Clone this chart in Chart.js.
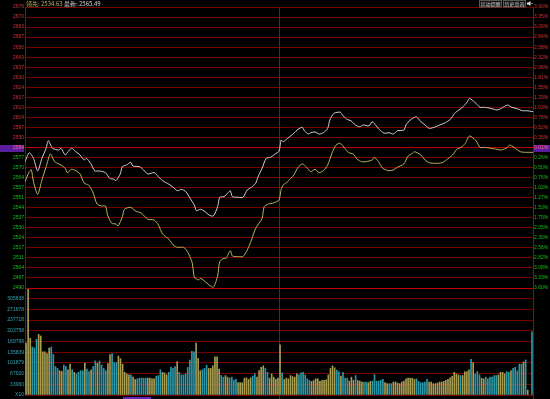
<!DOCTYPE html>
<html><head><meta charset="utf-8">
<script src="https://cdn.jsdelivr.net/npm/chart.js@4"></script>
<style>
html,body{margin:0;padding:0;background:#000;width:550px;height:399px;overflow:hidden}
#wrap{position:relative;width:550px;height:399px}
canvas{position:absolute;left:0;top:0}
</style></head><body>
<div id="wrap"><canvas id="vol" width="550" height="399"></canvas><canvas id="price" width="550" height="399"></canvas></div>
<script>
// ---- tick labels (bottom to top) ----
const priceTickLabels = ['2490','2497','2504','2511','2517','2524','2530','2537','2544','2551','2557','2564','2570','2577','2584','2590','2597','2604','2610','2617','2624','2630','2637','2643','2650','2657','2663','2670','2678'];
const pctTickLabels = ['3.60%','3.33%','3.08%','2.82%','2.56%','2.30%','2.05%','1.79%','1.53%','1.27%','1.02%','0.76%','0.50%','0.26%','0.01%','0.26%','0.52%','0.78%','1.03%','1.29%','1.55%','1.81%','2.06%','2.32%','2.58%','2.84%','3.09%','3.35%','3.60%'];
const volTickLabels = ['X10','33960','67920','101879','135839','169798','203758','237718','271678','305638',''];
const priceMin = 2490, priceMax = 2678, volMax = 339598;

// ---- header / buttons text ----
const headerLead = '领先: 2534.63';
const headerLast = '最新: 2565.49';
const buttonTexts = ['异动提醒','历史查询'];

// ---- white line (index), minute index / value ----
const whiteMin = [0,2,4,6,8,10,11,13,16,17,19,20,22,24,26,28,29,31,33,35,38,40,42,43,45,46,48,50,51,54,56,58,61,63,65,68,70,72,74,76,78,80,81,83,85,87,89,91,92,94,96,97,98,101,103,105,107,109,110,112,114,116,118,120,121,122,124,127,129,131,132,134,135,137,139,141,143,144,146,149,150,152,154,156,158,160,162,163,164,166,168,170,172,174,176,179,180,182,184,185,187,189,191,194,196,198,201,203,205,207,209,210,213,215,217,220,223,225,228,230,232,235,237,240];
const whiteVal = [2574.5,2580.5,2576.8,2568.3,2576.8,2583.5,2588.6,2583.5,2582.3,2583.5,2579.0,2580.5,2583.5,2581.2,2579.0,2575.6,2576.8,2573.4,2568.3,2568.3,2567.2,2563.4,2562.7,2561.8,2566.3,2571.2,2572.3,2574.1,2571.6,2571.2,2569.0,2566.3,2567.2,2564.5,2561.8,2559.4,2557.4,2555.1,2556.0,2554.4,2550.0,2545.5,2541.7,2542.7,2541.1,2538.8,2538.2,2544.4,2550.7,2551.1,2553.8,2555.1,2551.1,2550.7,2550.7,2555.6,2557.4,2560.1,2564.1,2570.1,2576.8,2577.4,2579.5,2581.5,2589.0,2587.9,2590.1,2593.5,2596.2,2597.5,2595.2,2593.0,2593.9,2594.4,2593.0,2593.9,2596.8,2602.4,2606.9,2607.6,2605.7,2602.9,2601.9,2599.1,2597.9,2599.1,2598.4,2599.1,2601.3,2598.4,2595.2,2593.5,2593.9,2593.0,2595.2,2595.7,2599.1,2602.4,2604.2,2604.6,2601.3,2599.1,2596.8,2597.9,2599.1,2600.2,2602.9,2606.9,2609.1,2611.3,2614.6,2616.9,2613.6,2610.9,2610.9,2610.2,2609.1,2610.2,2612.4,2610.9,2610.2,2608.6,2608.6,2608.0];

// ---- yellow line (leading), minute index / value ----
const yellowMin = [0,2,3,4,6,8,10,12,14,16,17,19,20,22,24,26,28,30,32,34,36,38,39,41,43,44,46,47,50,52,55,58,61,63,65,68,70,72,75,77,79,80,82,83,86,87,89,91,92,94,95,97,98,101,103,105,107,109,112,113,115,117,120,121,122,124,127,129,131,133,135,137,139,141,143,145,147,149,151,153,155,157,159,161,164,165,167,169,172,174,176,179,181,183,184,187,189,191,194,197,199,202,204,206,208,210,213,215,217,220,223,225,228,229,231,234,236,240];
const yellowVal = [2561.1,2567.8,2569.0,2561.1,2552.7,2562.3,2571.2,2579.7,2574.5,2573.0,2572.3,2570.1,2567.2,2569.4,2568.5,2566.3,2560.1,2558.9,2554.4,2546.2,2544.9,2544.9,2538.8,2533.3,2532.8,2531.5,2537.7,2542.7,2544.0,2541.7,2540.0,2536.0,2535.5,2532.2,2526.1,2522.6,2518.8,2517.2,2517.2,2513.6,2506.9,2497.2,2495.4,2496.5,2493.2,2492.0,2490.5,2498.0,2507.6,2509.9,2509.9,2515.0,2511.4,2511.0,2511.0,2515.4,2522.1,2530.0,2536.6,2544.4,2546.2,2546.7,2548.9,2556.0,2558.9,2561.1,2565.6,2570.8,2573.0,2570.8,2567.8,2569.4,2567.2,2568.5,2572.3,2580.1,2585.7,2586.8,2583.5,2580.5,2579.7,2576.1,2574.5,2574.5,2575.6,2577.4,2574.5,2570.1,2568.5,2569.0,2570.8,2573.0,2578.3,2580.1,2581.2,2579.0,2575.6,2573.8,2573.4,2573.8,2575.6,2579.0,2582.8,2584.1,2586.8,2591.7,2588.6,2584.1,2584.1,2583.5,2582.8,2582.3,2584.1,2585.7,2584.1,2581.2,2580.8,2580.8];

// ---- volume per minute (242 bars) and direction (1 = up, 0 = down) ----
const volume = [
164640,339000,180075,152292,149205,176988,192423,187278,136857,136857,
131712,149205,152292,128625,90552,84378,77175,75117,94668,90552,
80262,97755,80262,72030,66885,72030,77175,77175,100842,82320,
74088,80262,90552,108045,100842,108045,94668,84378,77175,99813,
128625,131712,102900,102900,123480,115248,97755,72030,66885,63798,
63798,56595,49392,51450,53508,53508,53508,53508,53508,53508,
51450,51450,59682,61740,80262,72030,69972,63798,72030,87465,
84378,90552,105987,72030,63798,63798,66885,87465,111132,138915,
136857,164640,116277,77175,80262,84378,94668,84378,84378,92610,
121422,121422,82320,61740,56595,61740,56595,53508,56595,46305,
49392,39102,39102,39102,53508,54537,49392,54537,59682,66885,
56595,77175,87465,92610,84378,72030,53508,66885,56595,49392,
53508,
159495,69972,49392,53508,51450,61740,58653,56595,66885,63798,
69972,72030,63798,51450,46305,43218,46305,51450,51450,43218,
46305,46305,48363,63798,84378,92610,86436,79233,74088,59682,
72030,53508,53508,44247,56595,46305,61740,46305,44247,41160,
41160,41160,39102,43218,44247,64827,44247,44247,46305,49392,
39102,36015,36015,36015,41160,41160,38073,36015,41160,44247,
51450,53508,53508,53508,49392,51450,43218,39102,39102,41160,
49392,41160,41160,36015,36015,38073,41160,41160,43218,46305,
49392,54537,59682,72030,66885,63798,61740,61740,74088,74088,
80262,113190,102900,66885,74088,63798,53508,51450,56595,51450,
56595,56595,61740,61740,63798,72030,72030,66885,74088,72030,
77175,84378,87465,77175,97755,97755,104958,111132,15435,0,
200655];
const volDir = [
1,1,1,0,0,0,1,1,1,1, 1,1,0,0,0,0,1,1,0,0, 1,1,0,1,0,0,0,0,1,0, 0,1,0,0,1,0,0,0,0,1,
1,0,0,0,1,1,1,1,1,1, 0,1,1,0,0,0,0,0,1,1, 1,1,0,0,0,1,1,1,0,0, 0,0,1,0,0,0,0,0,0,0,
0,1,1,1,0,0,0,1,1,1, 1,1,1,0,0,1,1,0,0,0, 0,1,1,1,1,1,1,1,0,0, 1,1,1,1,0,0,1,1,1,1,
1,
1,0,1,1,1,1,1,1,1,0, 0,0,0,0,0,1,1,1,1,1, 1,1,1,1,1,1,1,0,0,1, 0,0,0,1,1,1,0,1,1,1,
0,0,1,1,0,0,0,0,0,0, 1,1,0,0,1,1,1,1,1,1, 1,1,1,1,1,0,0,0,0,0, 0,1,1,1,1,1,1,1,1,1,
1,1,1,1,1,1,0,1,1,1, 1,0,1,0,0,0,1,1,0,0, 0,0,0,0,1,1,1,1,0,0, 1,0,0,0,0,0,1,0,1,1,
0];

// ---- styles ----
const C = {
  gridDark:'#760000', gridBright:'#bc0000', border:'#b00000',
  red:'#d23232', green:'#18c018', zeroText:'#ff6a86', zeroBg:'#5a1e9c',
  white:'#d0d0d0', yellow:'#bab260', up:'#a59c52', down:'#2a98a8', volText:'#34a8b8'
};
const tickFont = {family:'Liberation Sans', size:5};
const nP = priceTickLabels.length - 1;
const zeroIdx = 14;
const zeroValue = priceMin + zeroIdx * (priceMax - priceMin) / nP;
const priceColor = k => k < zeroIdx ? C.green : (k === zeroIdx ? C.zeroText : C.red);

const priceDecor = {
  id:'priceDecor',
  beforeDraw(chart){
    const {ctx, chartArea:a, scales:{y}} = chart;
    const zy = Math.round(y.getPixelForValue(zeroValue));
    ctx.save();
    ctx.fillStyle = C.zeroBg;
    ctx.fillRect(0, zy - 3, a.left - 1, 7);
    ctx.fillRect(a.right + 1, zy - 3, chart.width - a.right - 1, 7);
    ctx.restore();
  },
  beforeDatasetsDraw(chart){
    const {ctx, chartArea:a, scales:{x}} = chart;
    const mx = Math.round(x.getPixelForValue(120)) + 0.5;
    ctx.save();
    ctx.strokeStyle = C.border; ctx.lineWidth = 1;
    ctx.beginPath(); ctx.moveTo(mx, a.top); ctx.lineTo(mx, a.bottom); ctx.stroke();
    ctx.restore();
  },
  afterDraw(chart){
    const {ctx, chartArea:a} = chart;
    ctx.save();
    ctx.textBaseline = 'middle';
    ctx.font = '6px "Noto Sans CJK SC"';
    ctx.fillStyle = C.yellow;
    ctx.fillText(headerLead, a.left + 1, 3.5);
    const w = ctx.measureText(headerLead + ' ').width;
    ctx.fillStyle = C.white;
    ctx.fillText(headerLast, a.left + 1 + w, 3.5);
    // buttons
    ctx.font = '5px "Noto Sans CJK SC"';
    ctx.textAlign = 'center';
    const bx = [479, 503];
    buttonTexts.forEach((t, k) => {
      ctx.fillStyle = '#141414';
      ctx.fillRect(bx[k], 0, 22, 7);
      ctx.strokeStyle = '#555';
      ctx.strokeRect(bx[k] + 0.5, 0.5, 22, 6.5);
      ctx.fillStyle = '#c8c8c8';
      ctx.fillText(t, bx[k] + 11.5, 3.8);
    });
    // speaker icon
    ctx.fillStyle = '#e6e6e6';
    ctx.beginPath();
    ctx.moveTo(527, 2.5); ctx.lineTo(528.5, 2.5); ctx.lineTo(530.5, 1); ctx.lineTo(530.5, 6);
    ctx.lineTo(528.5, 4.5); ctx.lineTo(527, 4.5); ctx.closePath(); ctx.fill();
    ctx.fillRect(531.5, 3, 1, 1);
    ctx.restore();
  }
};

new Chart(document.getElementById('price'), {
  type:'line',
  data:{datasets:[
    {data: yellowMin.map((m,k)=>({x:m, y:yellowVal[k]})), borderColor:C.yellow, borderWidth:1, pointRadius:0, tension:0.25},
    {data: whiteMin.map((m,k)=>({x:m, y:whiteVal[k]})), borderColor:C.white, borderWidth:1, pointRadius:0, tension:0.25}
  ]},
  options:{
    responsive:false, animation:false, devicePixelRatio:1, events:[],
    layout:{padding:{top:7, bottom:111, left:0, right:0}},
    plugins:{legend:{display:false}, tooltip:{enabled:false}},
    scales:{
      x:{type:'linear', min:0, max:240, display:false},
      y:{position:'left', min:priceMin, max:priceMax,
        afterFit:s=>{s.width = 25;},
        afterBuildTicks:s=>{s.ticks = priceTickLabels.map((_,k)=>({value: priceMin + k*(priceMax-priceMin)/nP}));},
        ticks:{autoSkip:false, padding:1, font:tickFont, callback:(v,k)=>priceTickLabels[k], color:c=>priceColor(c.index)},
        grid:{drawTicks:false, color:c=> (c.index===zeroIdx || c.index===0) ? C.gridBright : C.gridDark, lineWidth:1},
        border:{display:true, color:C.border}
      },
      y2:{position:'right', min:priceMin, max:priceMax,
        afterFit:s=>{s.width = 17;},
        afterBuildTicks:s=>{s.ticks = pctTickLabels.map((_,k)=>({value: priceMin + k*(priceMax-priceMin)/nP}));},
        ticks:{autoSkip:false, padding:1, font:tickFont, callback:(v,k)=>pctTickLabels[k], color:c=>priceColor(c.index)},
        grid:{drawOnChartArea:false, drawTicks:false},
        border:{display:true, color:C.border}
      }
    }
  },
  plugins:[priceDecor]
});

const volDecor = {
  id:'volDecor',
  beforeDatasetsDraw(chart){
    const {ctx, chartArea:a, scales:{x}} = chart;
    const mx = Math.round(x.getPixelForValue(120.5)) + 0.5;
    ctx.save();
    ctx.strokeStyle = C.border; ctx.lineWidth = 1;
    ctx.beginPath(); ctx.moveTo(mx, a.top); ctx.lineTo(mx, chart.height); ctx.stroke();
    ctx.beginPath(); ctx.moveTo(a.right + 0.5, a.top); ctx.lineTo(a.right + 0.5, chart.height); ctx.stroke();
    ctx.fillStyle = '#6a22b8';
    ctx.fillRect(123, 397, 28, 2);
    ctx.restore();
  }
};

new Chart(document.getElementById('vol'), {
  type:'bar',
  data:{datasets:[{
    data: volume.map((v,k)=>({x:k, y:v})),
    backgroundColor: volDir.map(d => d ? C.up : C.down),
    barThickness:1, borderWidth:0
  }]},
  options:{
    responsive:false, animation:false, devicePixelRatio:1, events:[],
    layout:{padding:{top:288, bottom:1, left:0, right:17}},
    plugins:{legend:{display:false}, tooltip:{enabled:false}},
    scales:{
      x:{type:'linear', min:-0.5, max:241.5, offset:false, display:false},
      y:{position:'left', min:0, max:volMax,
        afterFit:s=>{s.width = 25;},
        afterBuildTicks:s=>{s.ticks = volTickLabels.map((_,k)=>({value: k*volMax/(volTickLabels.length-1)}));},
        ticks:{autoSkip:false, padding:1, font:tickFont, callback:(v,k)=>volTickLabels[k], color:C.volText},
        grid:{drawTicks:false, color:c=> c.index===volTickLabels.length-1 ? C.gridBright : C.gridDark, lineWidth:1},
        border:{display:true, color:C.border}
      }
    }
  },
  plugins:[volDecor]
});
</script>
</body></html>
